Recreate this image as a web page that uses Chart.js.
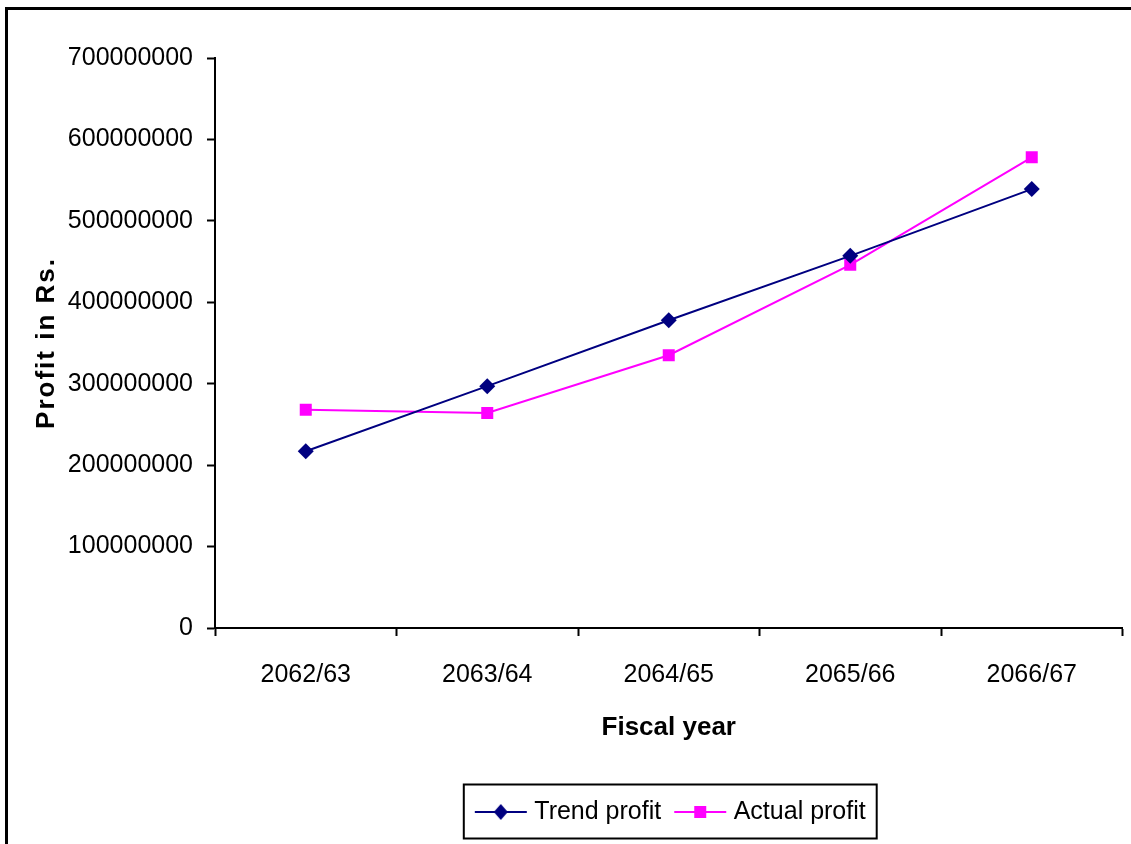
<!DOCTYPE html>
<html lang="en">

<head>
    <meta charset="UTF-8">
    <title>Profit trend</title>
    <style>
        body {
            margin: 0;
            background: #fff;
        }

        #wrap {
            position: relative;
            width: 1131px;
            height: 844px;
            overflow: hidden;
        }

        #frame {
            position: absolute;
            left: 5px;
            top: 7px;
            width: 1200px;
            height: 900px;
            border-top: 3px solid #000;
            border-left: 3px solid #000;
            pointer-events: none;
        }

        #myChart {
            position: absolute;
            left: 0;
            top: 0;
        }
    </style>
</head>

<body>
    <div id="wrap">
        <canvas id="myChart" width="1131" height="844"></canvas>
        <div id="frame"></div>
    </div>

    <script src="https://cdn.jsdelivr.net/npm/chart.js"></script>

    <script>
        // values
        const years = ['2062/63', '2063/64', '2064/65', '2065/66', '2066/67'];
        const trend_profit = [217000000, 297000000, 378000000, 457000000, 539000000];
        const actual_profit = [268000000, 264000000, 335000000, 446000000, 578000000];
        const y_max = 700000000;
        const y_step = 100000000;

        const tick_font = { family: "'Liberation Sans Narrow', 'Liberation Sans', Arial", size: 25 };
        const title_font = { family: "'Liberation Sans', Arial", size: 26, weight: 'bold' };

        // legend icon: short line with the marker on it (drawn off-centre so the text gap fits)
        function make_icon(color, shape) {
            let c = document.createElement('canvas');
            c.width = 62;
            c.height = 20;
            let g = c.getContext('2d');
            g.strokeStyle = color;
            g.lineWidth = 2;
            g.beginPath();
            g.moveTo(9, 10);
            g.lineTo(61, 10);
            g.stroke();
            g.fillStyle = color;
            g.beginPath();
            if (shape == 'diamond') {
                g.moveTo(35, 2);
                g.lineTo(42, 10);
                g.lineTo(35, 18);
                g.lineTo(28, 10);
                g.closePath();
            } else {
                g.rect(29, 4, 12, 12);
            }
            g.fill();
            return c;
        }

        const icons = [make_icon('#000080', 'diamond'), make_icon('#ff00ff', 'square')];

        // letter spaced y title + box round the legend
        const extras = {
            id: 'extras',
            beforeDraw(chart) {
                Object.values(chart.scales).forEach(s => {
                    if (s._spaced) return;
                    const orig = s.drawTitle.bind(s);
                    const sp = s.axis == 'y' ? '2px' : '0px';
                    s.drawTitle = function () {
                        const ctx = this.ctx;
                        ctx.save();
                        ctx.letterSpacing = sp;
                        orig();
                        ctx.restore();
                    };
                    s._spaced = true;
                });
            },
            afterDraw(chart) {
                const hb = chart.legend.legendHitBoxes;
                if (!hb || !hb.length) return;
                const first = hb[0];
                const last = hb[hb.length - 1];
                const ctx = chart.ctx;
                ctx.save();
                ctx.strokeStyle = '#000';
                ctx.lineWidth = 2;
                const l = first.left - 8;
                const r = last.left + last.width + 11;
                const t = first.top - 15;
                const b = first.top + first.height + 14;
                ctx.strokeRect(l, t, r - l, b - t);
                ctx.restore();
            }
        };

        const ctx = document.getElementById('myChart');

        let config = {
            type: 'line',
            data: {
                labels: years,
                datasets: [
                    {
                        label: 'Trend profit',
                        data: trend_profit,
                        borderColor: '#000080',
                        backgroundColor: '#000080',
                        borderWidth: 2,
                        pointStyle: 'rectRot',
                        pointRadius: 8,
                        pointBorderWidth: 0,
                        tension: 0
                    },
                    {
                        label: 'Actual profit',
                        data: actual_profit,
                        borderColor: '#ff00ff',
                        backgroundColor: '#ff00ff',
                        borderWidth: 2,
                        pointStyle: 'rect',
                        pointRadius: 8.5,
                        pointBorderWidth: 0,
                        tension: 0
                    }
                ]
            },
            options: {
                responsive: false,
                animation: false,
                layout: {
                    padding: { top: 58, left: 0, right: 8, bottom: 9.5 }
                },
                plugins: {
                    tooltip: { enabled: false },
                    legend: {
                        position: 'bottom',
                        fullSize: false,
                        labels: {
                            usePointStyle: true,
                            pointStyleWidth: 50,
                            padding: 10,
                            color: '#000',
                            font: tick_font,
                            generateLabels(chart) {
                                return chart.data.datasets.map((d, i) => ({
                                    text: d.label,
                                    pointStyle: icons[i],
                                    fillStyle: d.borderColor,
                                    strokeStyle: d.borderColor,
                                    lineWidth: 0,
                                    fontColor: '#000',
                                    datasetIndex: i
                                }));
                            }
                        }
                    }
                },
                scales: {
                    x: {
                        offset: true,
                        grid: {
                            offset: true,
                            drawOnChartArea: false,
                            drawTicks: true,
                            tickLength: 8,
                            tickColor: '#000',
                            tickWidth: 2
                        },
                        border: { color: '#000', width: 2 },
                        ticks: {
                            color: '#000',
                            font: tick_font,
                            padding: 24,
                            maxRotation: 0
                        },
                        title: {
                            display: true,
                            text: 'Fiscal year',
                            color: '#000',
                            font: title_font,
                            padding: { top: 0, bottom: 46 }
                        },
                        afterFit(scale) {
                            scale.height = 161.5;
                        }
                    },
                    y: {
                        min: 0,
                        max: y_max,
                        grid: {
                            drawOnChartArea: false,
                            drawTicks: true,
                            tickLength: 8,
                            tickColor: '#000',
                            tickWidth: 2
                        },
                        border: { color: '#000', width: 2 },
                        ticks: {
                            stepSize: y_step,
                            color: '#000',
                            font: tick_font,
                            padding: 14,
                            callback: v => String(v)
                        },
                        title: {
                            display: true,
                            text: 'Profit in Rs.',
                            color: '#000',
                            font: title_font,
                            padding: { top: 31, bottom: 0 }
                        },
                        afterFit(scale) {
                            scale.width = 215;
                        }
                    }
                }
            },
            plugins: [extras]
        };

        let myChart = new Chart(ctx, config);
    </script>
</body>

</html>
